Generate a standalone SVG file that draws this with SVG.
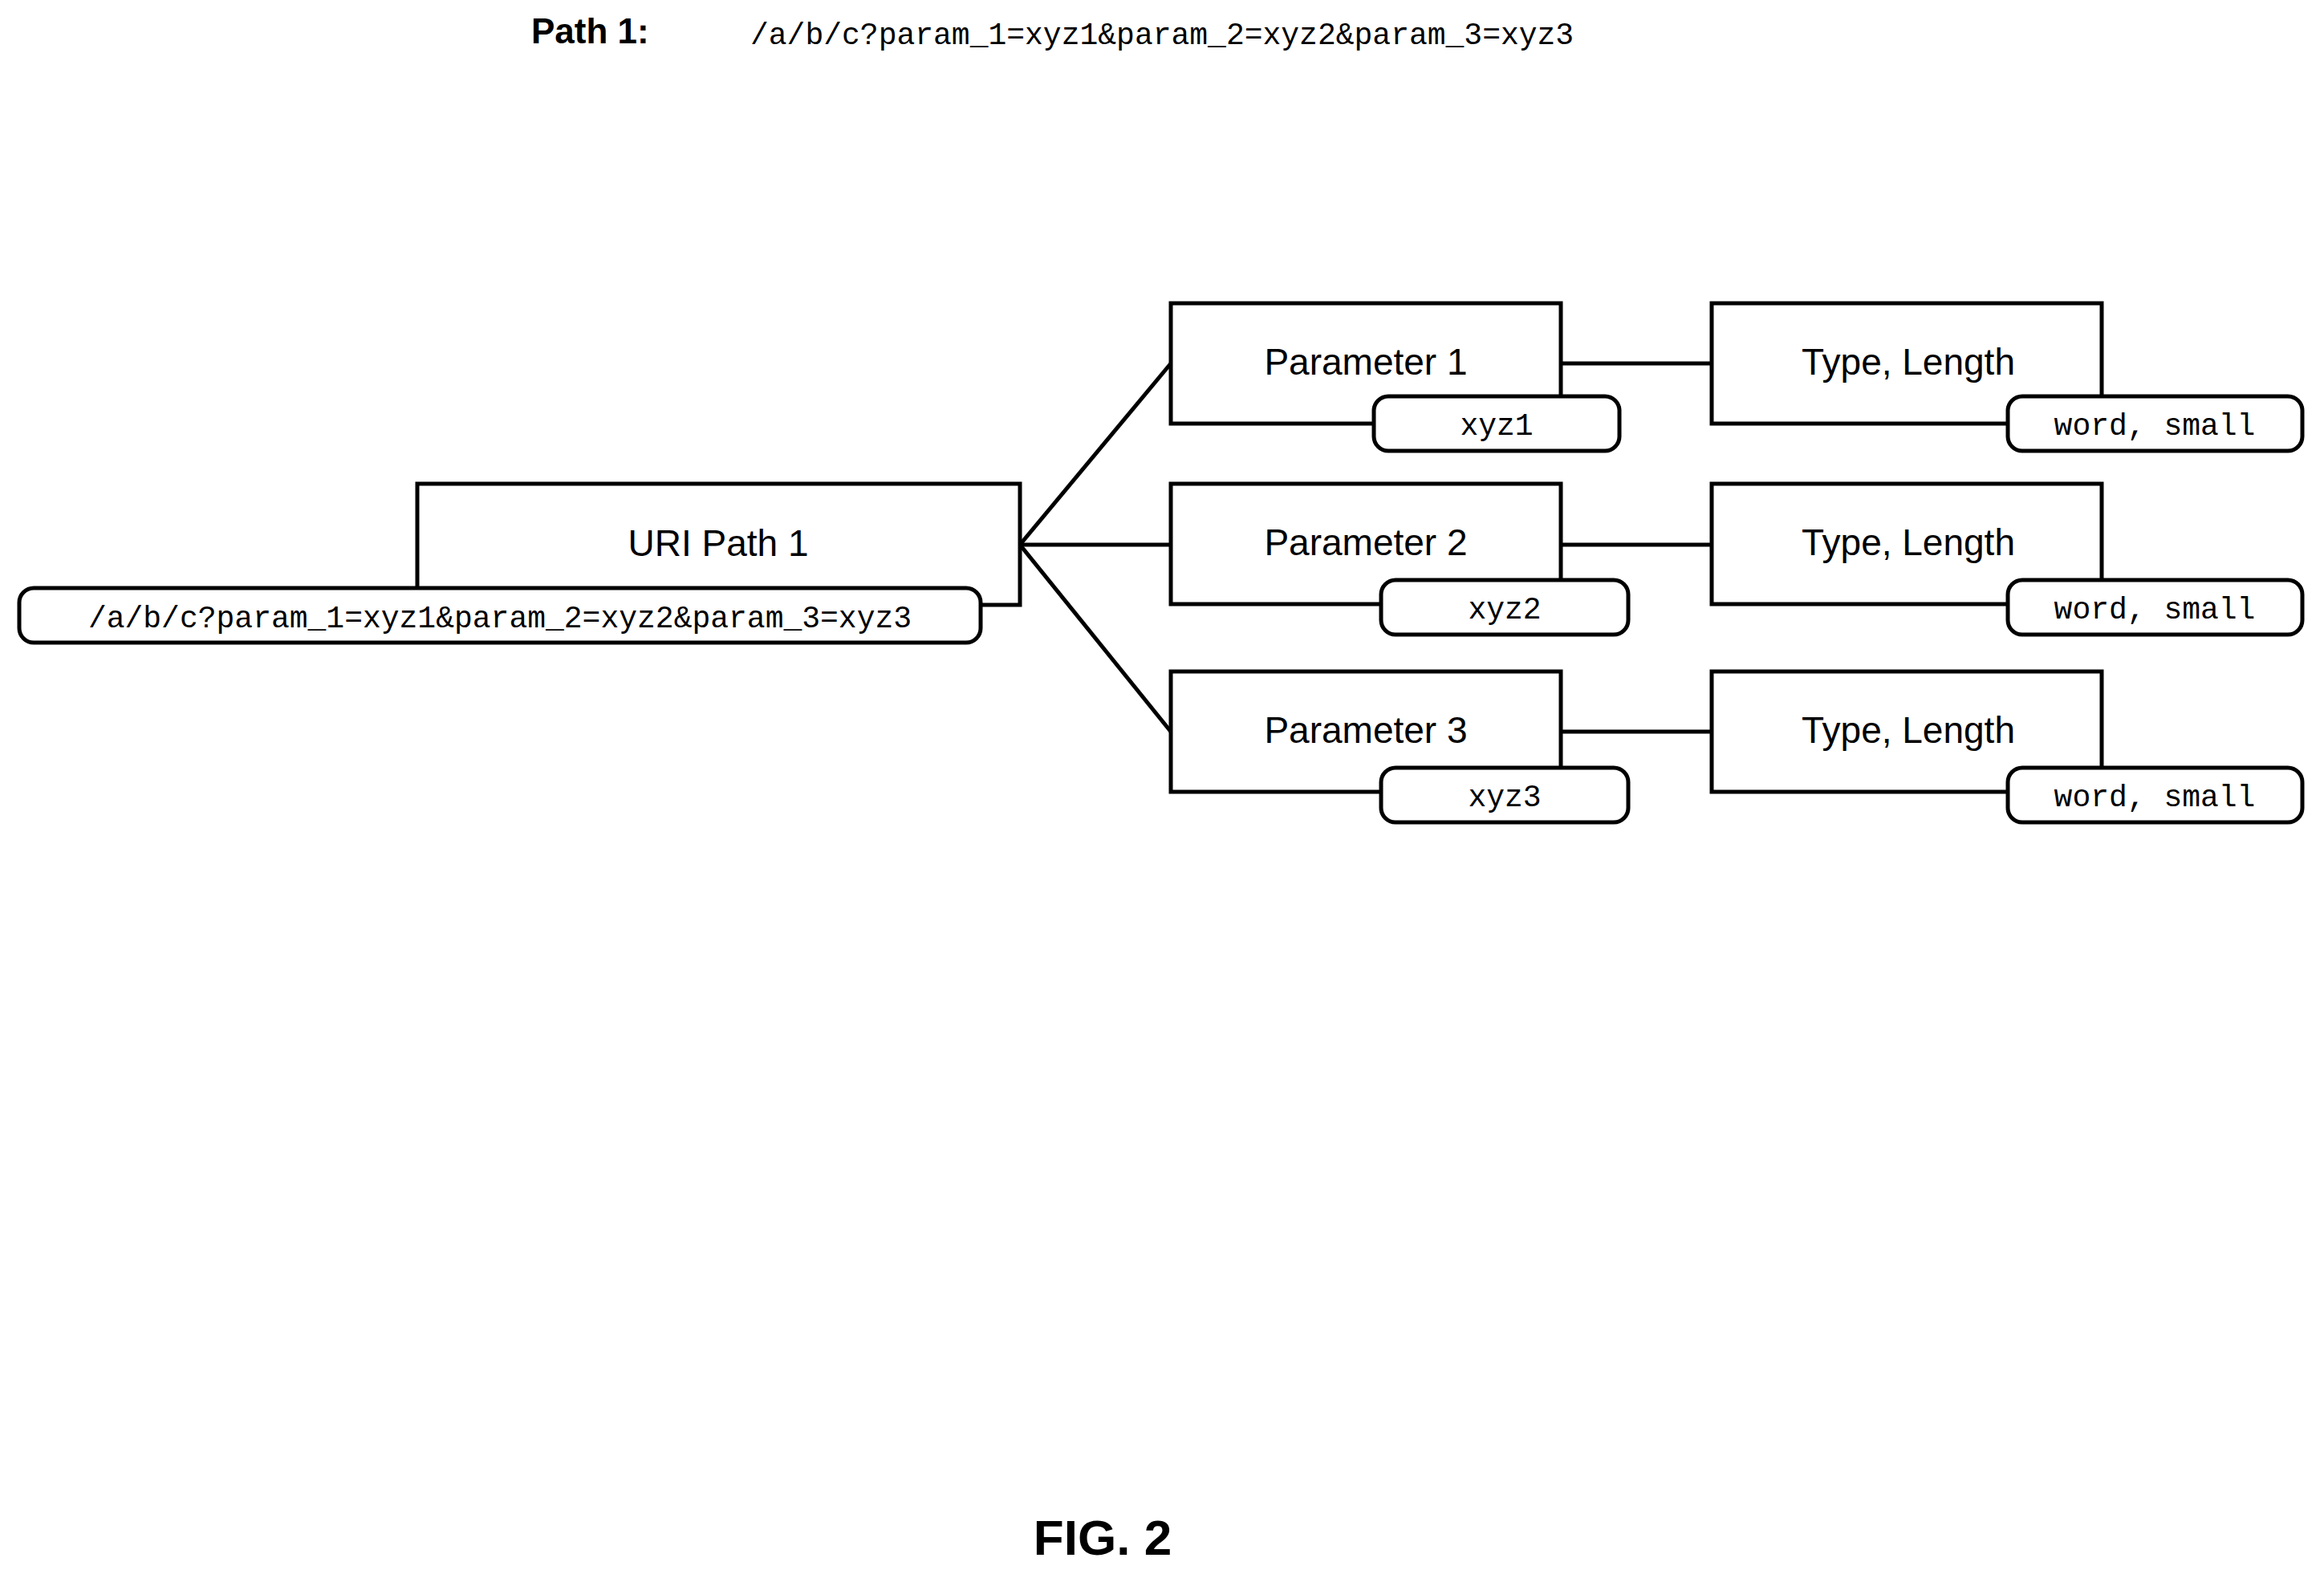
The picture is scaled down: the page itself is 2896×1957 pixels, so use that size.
<svg xmlns="http://www.w3.org/2000/svg" width="2896" height="1957" viewBox="0 0 2896 1957">
<style>
.box{fill:#fff;stroke:#000;stroke-width:5}
.pill{fill:#fff;stroke:#000;stroke-width:5}
.lbl{font-family:"Liberation Sans",Arial,sans-serif;font-size:46px;text-anchor:middle}
.mono{font-family:"Liberation Mono","Courier New",monospace;font-size:38px;text-anchor:middle}
.conn{stroke:#000;stroke-width:5;fill:none}
</style>
<rect width="2896" height="1957" fill="#fff"/>
<text x="662" y="54" style="font-family:'Liberation Sans',Arial,sans-serif;font-size:44px;font-weight:bold">Path 1:</text>
<text x="935" y="55" style="font-family:'Liberation Mono','Courier New',monospace;font-size:38px">/a/b/c?param_1=xyz1&amp;param_2=xyz2&amp;param_3=xyz3</text>
<g id="connectors">
<line class="conn" x1="1271" y1="679" x2="1459" y2="453"/>
<line class="conn" x1="1271" y1="679" x2="1459" y2="679"/>
<line class="conn" x1="1271" y1="679" x2="1459" y2="912"/>
<line class="conn" x1="1945" y1="453" x2="2133" y2="453"/>
<line class="conn" x1="1945" y1="679" x2="2133" y2="679"/>
<line class="conn" x1="1945" y1="912" x2="2133" y2="912"/>
</g>
<g id="uri">
<rect class="box" x="520" y="603" width="751" height="151"/>
<text class="lbl" x="895" y="693">URI Path 1</text>
<rect class="pill" x="24" y="733" width="1198" height="68" rx="18"/>
<text class="mono" x="623" y="782">/a/b/c?param_1=xyz1&amp;param_2=xyz2&amp;param_3=xyz3</text>
</g>
<g id="param1">
<rect class="box" x="1459" y="378" width="486" height="150"/>
<text class="lbl" x="1702" y="467">Parameter 1</text>
<rect class="pill" x="1712" y="494" width="306" height="68" rx="18"/>
<text class="mono" x="1865" y="542">xyz1</text>
</g>
<g id="param2">
<rect class="box" x="1459" y="603" width="486" height="150"/>
<text class="lbl" x="1702" y="692">Parameter 2</text>
<rect class="pill" x="1721" y="723" width="308" height="68" rx="18"/>
<text class="mono" x="1875" y="771">xyz2</text>
</g>
<g id="param3">
<rect class="box" x="1459" y="837" width="486" height="150"/>
<text class="lbl" x="1702" y="926">Parameter 3</text>
<rect class="pill" x="1721" y="957" width="308" height="68" rx="18"/>
<text class="mono" x="1875" y="1005">xyz3</text>
</g>
<g id="type1">
<rect class="box" x="2133" y="378" width="486" height="150"/>
<text class="lbl" x="2378" y="467">Type, Length</text>
<rect class="pill" x="2502" y="494" width="367" height="68" rx="18"/>
<text class="mono" x="2685" y="542">word, small</text>
</g>
<g id="type2">
<rect class="box" x="2133" y="603" width="486" height="150"/>
<text class="lbl" x="2378" y="692">Type, Length</text>
<rect class="pill" x="2502" y="723" width="367" height="68" rx="18"/>
<text class="mono" x="2685" y="771">word, small</text>
</g>
<g id="type3">
<rect class="box" x="2133" y="837" width="486" height="150"/>
<text class="lbl" x="2378" y="926">Type, Length</text>
<rect class="pill" x="2502" y="957" width="367" height="68" rx="18"/>
<text class="mono" x="2685" y="1005">word, small</text>
</g>
<text x="1374" y="1938" style="font-family:'Liberation Sans',Arial,sans-serif;font-size:62px;font-weight:bold;text-anchor:middle">FIG. 2</text>
</svg>
